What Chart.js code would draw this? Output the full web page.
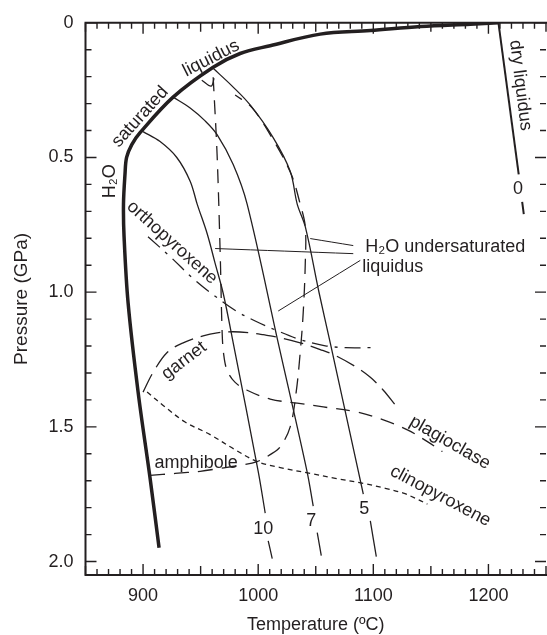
<!DOCTYPE html>
<html>
<head>
<meta charset="utf-8">
<script src="https://cdn.jsdelivr.net/npm/chart.js@4.4.1/dist/chart.umd.min.js"></script>
<style>
    html, body { margin: 0; padding: 0; background: #fff; }
</style>
</head>
<body>
<canvas id="chartLiquidus" width="547" height="635"></canvas>
<script>
// temperature (C) / pressure (GPa) pairs

// H2O saturated liquidus (thick)
const satT = [913.9, 906.1, 895.7, 887.0, 883.5, 883.0, 884.3, 885.7, 890.2, 897.4, 926.1, 960.9, 984.3, 1010.4, 1053.9, 1097.4, 1140.9, 1184.3, 1208.7]
const satP = [1.949, 1.691, 1.371, 1.040, 0.794, 0.673, 0.5625, 0.500, 0.452, 0.408, 0.276, 0.165, 0.114, 0.085, 0.042, 0.029, 0.0135, 0.005, 0.0]

// dry liquidus (0 % H2O)
const dryT = [1208.7, 1226.3]
const dryP = [0.0, 0.5625]
const dryDashT = [1229.3, 1230.7]
const dryDashP = [0.665, 0.71]

// undersaturated liquidi, 10, 7 and 5 wt% H2O
const w10T = [900.0, 914.8, 929.3, 940.9, 947.0, 955.7, 962.6, 969.6, 978.3, 1000.0, 1006.1]
const w10P = [0.404, 0.441, 0.500, 0.588, 0.673, 0.783, 0.893, 1.004, 1.188, 1.665, 1.820]
const w10DashT = [1008.7, 1012.2]
const w10DashP = [1.923, 1.989]

const w7T = [926.1, 940.9, 953.9, 964.3, 978.3, 990.4, 1017.4, 1042.4, 1047.8]
const w7P = [0.276, 0.316, 0.364, 0.415, 0.526, 0.673, 1.188, 1.665, 1.794]
const w7DashT = [1051.3, 1054.8]
const w7DashP = [1.893, 1.978]

const w5T = [960.9, 977.4, 993.0, 1013.0, 1027.8, 1033.9, 1040.9, 1053.0, 1062.6, 1087.0, 1091.3]
const w5P = [0.169, 0.235, 0.305, 0.426, 0.551, 0.673, 0.757, 1.004, 1.188, 1.665, 1.750]
const w5DashT = [1097.4, 1102.6]
const w5DashP = [1.849, 1.982]

// mineral-in boundaries
const plagT = [960.9, 964.3, 967.0, 968.7, 970.0, 973.0, 980.0, 990.4, 1010.4, 1033.9, 1056.5, 1086.1, 1108.7, 1129.6, 1147.0, 1160.0]
const plagP = [0.202, 0.489, 0.857, 1.151, 1.230, 1.290, 1.335, 1.364, 1.397, 1.412, 1.426, 1.445, 1.474, 1.511, 1.555, 1.592]
const plagTopT = [951.0, 959.1, 961.7]
const plagTopP = [0.213, 0.235, 0.206]

const amphT = [906.1, 927.8, 949.6, 967.0, 984.3, 999.1, 1010.4, 1019.1, 1027.8, 1033.0, 1036.5, 1039.1, 1040.9, 1040.9, 1036.5, 1028.7, 1013.0, 994.8, 980.0]
const amphP = [1.680, 1.673, 1.665, 1.654, 1.643, 1.629, 1.603, 1.574, 1.500, 1.371, 1.224, 1.077, 0.893, 0.757, 0.673, 0.5625, 0.434, 0.316, 0.268]

const opxT = [904.3, 923.5, 945.2, 962.6, 980.9, 997.4, 1014.8, 1036.5, 1058.3, 1075.7, 1099.1]
const opxP = [0.794, 0.868, 0.956, 1.015, 1.070, 1.107, 1.140, 1.176, 1.199, 1.206, 1.206]

const grtT = [900.0, 908.7, 920.9, 934.8, 952.2, 964.3, 978.3, 993.0, 1004.3, 1019.1, 1036.5, 1053.9, 1067.0, 1084.3, 1097.4, 1108.7, 1119.1]
const grtP = [1.371, 1.298, 1.224, 1.188, 1.162, 1.151, 1.147, 1.151, 1.158, 1.169, 1.188, 1.213, 1.235, 1.276, 1.316, 1.364, 1.419]

const cpxT = [903.5, 919.1, 936.5, 958.3, 980.0, 999.1, 1019.1, 1045.2, 1067.0, 1091.3, 1110.4, 1126.1, 1136.5, 1147.0]
const cpxP = [1.371, 1.426, 1.482, 1.529, 1.585, 1.629, 1.651, 1.673, 1.691, 1.710, 1.728, 1.746, 1.765, 1.787]

// leader lines of the "H2O undersaturated liquidus" note
const lead1T = [1045.2, 1082.6]
const lead1P = [0.801, 0.827]
const lead2T = [962.6, 1082.6]
const lead2P = [0.838, 0.857]
const lead3T = [1017.4, 1088.7]
const lead3P = [1.070, 0.882]

// axis ticks
const tempTicks = [900, 1000, 1100, 1200]
const pressTicks = [0, 0.5, 1.0, 1.5, 2.0]

const ink = '#231f20'
const font = "'Liberation Sans', Arial, sans-serif"
const fontSize = 18

// text notes: [text, T, P, angle in degrees, align]
const notes = [
    ['liquidus', 959.1, 0.132, -27, 'center'],
    ['saturated', 897.4, 0.349, -48, 'center'],
    ['H₂O', 871.3, 0.588, -90, 'center'],
    ['orthopyroxene', 925.2, 0.816, 42, 'center'],
    ['garnet', 935.7, 1.254, -37, 'center'],
    ['amphibole', 946.1, 1.636, 0, 'center'],
    ['plagioclase', 1166.5, 1.559, 30, 'center'],
    ['clinopyroxene', 1158.3, 1.757, 28, 'center'],
    ['10', 1004.3, 1.879, 0, 'center'],
    ['7', 1046.1, 1.849, 0, 'center'],
    ['5', 1092.2, 1.805, 0, 'center'],
    ['0', 1225.6, 0.618, 0, 'center'],
    ['dry liquidus', 1227.8, 0.232, 83, 'center'],
    ['H₂O undersaturated', 1093.0, 0.831, 0, 'left'],
    ['liquidus', 1090.4, 0.908, 0, 'left']
]

function pts(ts, ps) {
    return ts.map((t, i) => ({ x: t, y: ps[i] }))
}

function curve(ts, ps, width, dash) {
    return {
        data: pts(ts, ps),
        showLine: true,
        borderColor: ink,
        borderWidth: width,
        borderDash: dash || [],
        pointRadius: 0,
        tension: 0.35,
        fill: false
    }
}

const framePlugin = {
    id: 'frame',
    afterDatasetsDraw(chart) {
        const { ctx, chartArea: a, scales: { x, y } } = chart
        ctx.save()
        ctx.strokeStyle = ink
        ctx.lineWidth = 2
        ctx.beginPath()
        ctx.moveTo(a.left, a.top); ctx.lineTo(a.right + 2, a.top)
        ctx.moveTo(a.left, a.top - 1); ctx.lineTo(a.left, a.bottom + 1)
        ctx.moveTo(a.left, a.bottom); ctx.lineTo(a.right + 2, a.bottom)
        ctx.stroke()
        ctx.lineWidth = 1.4
        ctx.beginPath()
        for (let t = 850; t <= 1250; t += 10) {
            const px = x.getPixelForValue(t)
            const len = t % 100 === 0 ? 11 : (t % 50 === 0 ? 9 : 6)
            ctx.moveTo(px, a.bottom); ctx.lineTo(px, a.bottom - len)
            ctx.moveTo(px, a.top); ctx.lineTo(px, a.top + len)
        }
        for (let i = 0; i <= 20; i++) {
            const py = y.getPixelForValue(i / 10)
            const len = i % 5 === 0 ? 11 : 6
            ctx.moveTo(a.left, py); ctx.lineTo(a.left + len, py)
            ctx.moveTo(a.right, py); ctx.lineTo(a.right - len, py)
        }
        ctx.stroke()
        ctx.restore()
    }
}

const notesPlugin = {
    id: 'notes',
    afterDatasetsDraw(chart) {
        const { ctx, scales: { x, y } } = chart
        ctx.save()
        ctx.fillStyle = ink
        ctx.font = fontSize + 'px ' + font
        ctx.textBaseline = 'middle'
        notes.forEach(n => {
            ctx.save()
            ctx.translate(x.getPixelForValue(n[1]), y.getPixelForValue(n[2]))
            ctx.rotate(n[3] * Math.PI / 180)
            ctx.textAlign = n[4]
            ctx.fillText(n[0], 0, 0)
            ctx.restore()
        })
        ctx.restore()
    }
}

new Chart(document.getElementById('chartLiquidus'), {
    type: 'scatter',
    data: {
        datasets: [
            curve(w10T, w10P, 1.3),
            curve(w10DashT, w10DashP, 1.3),
            curve(w7T, w7P, 1.3),
            curve(w7DashT, w7DashP, 1.3),
            curve(w5T, w5P, 1.3),
            curve(w5DashT, w5DashP, 1.3),
            curve(plagT, plagP, 1.3, [14, 9]),
            curve(plagTopT, plagTopP, 1.3),
            curve(amphT, amphP, 1.3, [15, 9]),
            curve(opxT, opxP, 1.3, [16, 7, 3, 7]),
            curve(grtT, grtP, 1.3, [20, 8]),
            curve(cpxT, cpxP, 1.3, [5, 4]),
            curve(lead1T, lead1P, 1),
            curve(lead2T, lead2P, 1),
            curve(lead3T, lead3P, 1),
            curve(dryT, dryP, 2),
            curve(dryDashT, dryDashP, 2),
            curve(satT, satP, 3.5)
        ]
    },
    options: {
        responsive: false,
        animation: false,
        layout: { padding: { top: 17, right: 1, left: 0, bottom: 0 } },
        plugins: {
            legend: { display: false },
            tooltip: { enabled: false }
        },
        scales: {
            x: {
                type: 'linear',
                min: 850,
                max: 1250,
                grid: { display: false, drawTicks: false },
                border: { display: false },
                afterBuildTicks: s => { s.ticks = tempTicks.map(v => ({ value: v })) },
                ticks: {
                    autoSkip: false,
                    maxRotation: 0,
                    padding: 10,
                    color: ink,
                    font: { family: font, size: fontSize },
                    callback: v => String(v)
                },
                title: {
                    display: true,
                    text: 'Temperature (ºC)',
                    color: ink,
                    font: { family: font, size: fontSize, lineHeight: 1 },
                    padding: { top: 0, bottom: 1 }
                },
                afterFit: s => { s.height = 60 }
            },
            y: {
                type: 'linear',
                min: 0,
                max: 2.05,
                reverse: true,
                grid: { display: false, drawTicks: false },
                border: { display: false },
                afterBuildTicks: s => { s.ticks = pressTicks.map(v => ({ value: v })) },
                ticks: {
                    autoSkip: false,
                    padding: 12,
                    color: ink,
                    font: { family: font, size: fontSize },
                    callback: v => v === 0 ? '0' : v.toFixed(1)
                },
                title: {
                    display: true,
                    text: 'Pressure (GPa)',
                    color: ink,
                    font: { family: font, size: 19, lineHeight: 1 },
                    padding: { top: 12, bottom: 0 }
                },
                afterFit: s => { s.width = 85.5 }
            }
        }
    },
    plugins: [framePlugin, notesPlugin]
})
</script>
</body>
</html>
